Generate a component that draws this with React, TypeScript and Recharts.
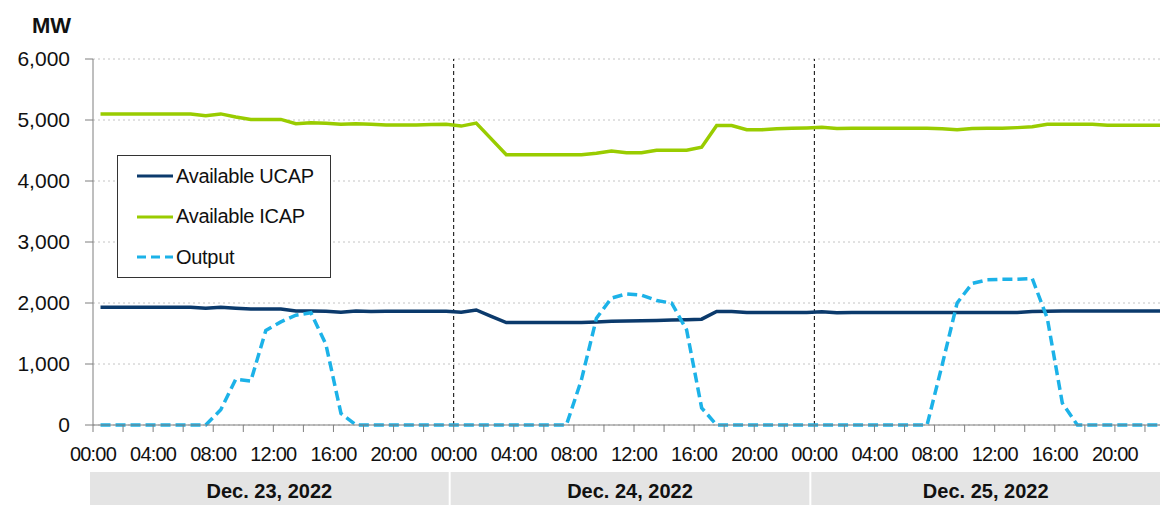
import { LineChart, Line, XAxis, YAxis, CartesianGrid, ReferenceLine, Legend, Label } from "recharts";

// hourly values, Dec 23 00:00 .. Dec 25 23:00 (MW)
const ucap = [
    1930, 1930, 1930, 1930, 1930, 1930, 1930, 1915, 1930, 1915, 1900, 1900,
    1900, 1870, 1870, 1865, 1850, 1870, 1860, 1865, 1865, 1865, 1865, 1865,
    1850, 1885, 1780, 1680, 1680, 1680, 1680, 1680, 1680, 1690, 1700, 1705,
    1710, 1715, 1720, 1725, 1735, 1860, 1860, 1845, 1845, 1845, 1845, 1845,
    1855, 1840, 1845, 1845, 1845, 1845, 1845, 1845, 1845, 1845, 1845, 1845,
    1845, 1845, 1860, 1865, 1870, 1870, 1870, 1870, 1870, 1870, 1870, 1870,
];
const icap = [
    5100, 5100, 5100, 5100, 5100, 5100, 5100, 5070, 5100, 5050, 5010, 5010,
    5010, 4940, 4955, 4945, 4930, 4940, 4930, 4920, 4920, 4920, 4925, 4930,
    4900, 4950, 4690, 4430, 4430, 4430, 4430, 4430, 4430, 4455, 4490, 4465,
    4465, 4505, 4505, 4505, 4555, 4910, 4910, 4840, 4840, 4855, 4865, 4870,
    4880, 4860, 4865, 4865, 4865, 4865, 4865, 4865, 4855, 4840, 4860, 4865,
    4865, 4875, 4890, 4930, 4930, 4930, 4930, 4915, 4915, 4915, 4915, 4915,
];
const output = [
    0, 0, 0, 0, 0, 0, 0, 0, 250, 750, 720, 1550,
    1690, 1800, 1840, 1320, 190, 0, 0, 0, 0, 0, 0, 0,
    0, 0, 0, 0, 0, 0, 0, 0, 740, 1750, 2080, 2150,
    2130, 2040, 2000, 1560, 280, 0, 0, 0, 0, 0, 0, 0,
    0, 0, 0, 0, 0, 0, 0, 0, 980, 2000, 2320, 2380,
    2390, 2390, 2400, 1750, 360, 0, 0, 0, 0, 0, 0, 0,
];

const hourTicks = [0, 2, 4, 6, 8, 10, 12, 14, 16, 18, 20, 22, 24, 26, 28, 30, 32, 34, 36, 38, 40, 42, 44, 46, 48, 50, 52, 54, 56, 58, 60, 62, 64, 66, 68, 70];
const dayLabels = ["Dec. 23, 2022", "Dec. 24, 2022", "Dec. 25, 2022"];
const dayCenters = [12, 36, 60];
const yTicks = [0, 1000, 2000, 3000, 4000, 5000, 6000];
const dayBreaks = [24, 48];

const WIDTH = 1160;
const HEIGHT = 505;
const Y_AXIS_W = 93;
const VISIBLE_HOURS = 71;
const FONT = "'Liberation Sans', Arial, sans-serif";

const UCAP_COLOR = "#0b3a6c";
const ICAP_COLOR = "#99cc00";
const OUTPUT_COLOR = "#1cb2e8";

const data = ucap.map((v, i) => ({ t: i + 0.5, ucap: v, icap: icap[i], output: output[i] }));

const series = [
    { key: "ucap", name: "Available UCAP", color: UCAP_COLOR, dash: undefined },
    { key: "icap", name: "Available ICAP", color: ICAP_COLOR, dash: undefined },
    { key: "output", name: "Output", color: OUTPUT_COLOR, dash: "10 5" },
];

function HourTick(props: any) {
    const { x, y, payload } = props;
    const h = payload.value;
    if (h % 4 !== 0) return null;
    const label = `${String(h % 24).padStart(2, "0")}:00`;
    return (
        <text x={x} y={y + 27} textAnchor="middle" fontSize={20} letterSpacing={-0.8} fill="#111" fontFamily={FONT}>
            {label}
        </text>
    );
}

function DayTick(props: any) {
    const { x, y, index } = props;
    const pph = (WIDTH - Y_AXIS_W) / VISIBLE_HOURS;
    const half = 12 * pph;
    const left = x - half - 3;
    const right = Math.min(x + half - 5, WIDTH);
    return (
        <g>
            <rect x={left} y={y - 1} width={right - left} height={40} fill="#e4e4e4" />
            <text x={(left + right) / 2} y={y + 25} textAnchor="middle" fontSize={20} fontWeight="bold" fill="#111" fontFamily={FONT}>
                {dayLabels[index]}
            </text>
        </g>
    );
}

function LegendBox() {
    return (
        <div
            style={{
                width: 214,
                height: 123,
                border: "1px solid #333",
                background: "#fff",
                boxSizing: "border-box",
                fontFamily: FONT,
            }}
        >
            {series.map((s) => (
                <div key={s.key} style={{ height: 40.5, display: "flex", alignItems: "center" }}>
                    <svg width={36} height={6} style={{ marginLeft: 19, marginRight: 3 }}>
                        <line x1={0} y1={3} x2={36} y2={3} stroke={s.color} strokeWidth={3} strokeDasharray={s.dash ? "9 5" : undefined} />
                    </svg>
                    <span style={{ fontSize: 20, letterSpacing: -0.3, color: "#111" }}>{s.name}</span>
                </div>
            ))}
        </div>
    );
}

export default function App() {
    return (
        <div style={{ position: "absolute", left: 0, top: 0, width: WIDTH, height: HEIGHT, background: "#fff" }}>
            <LineChart width={WIDTH} height={HEIGHT} data={data} margin={{ top: 59, right: 0, left: 0, bottom: 0 }}>
                <CartesianGrid vertical={false} stroke="#c4c4c4" strokeDasharray="2 3" />
                <XAxis
                    dataKey="t"
                    type="number"
                    domain={[0, VISIBLE_HOURS]}
                    allowDataOverflow
                    ticks={hourTicks}
                    interval={0}
                    tickSize={7}
                    height={40}
                    stroke="#7f7f7f"
                    tick={<HourTick />}
                />
                <XAxis
                    xAxisId="day"
                    dataKey="t"
                    type="number"
                    domain={[0, VISIBLE_HOURS]}
                    allowDataOverflow
                    ticks={dayCenters}
                    interval={0}
                    axisLine={false}
                    tickLine={false}
                    height={40}
                    tick={<DayTick />}
                />
                <YAxis
                    width={Y_AXIS_W}
                    domain={[0, 6000]}
                    ticks={yTicks}
                    interval={0}
                    tickSize={8}
                    tickMargin={15}
                    stroke="#7f7f7f"
                    tick={{ fontSize: 21, fill: "#111", fontFamily: FONT }}
                    tickFormatter={(v: number) => v.toLocaleString("en-US")}
                >
                    <Label value="MW" position="top" offset={26} dx={5} fontSize={22} fontWeight="bold" fill="#111" fontFamily={FONT} />
                </YAxis>
                {dayBreaks.map((h) => (
                    <ReferenceLine key={h} x={h} stroke="#000" strokeDasharray="4 3" strokeWidth={1} />
                ))}
                <Legend
                    layout="vertical"
                    align="center"
                    verticalAlign="middle"
                    content={<LegendBox />}
                    wrapperStyle={{ left: 117, top: 155, width: 214, height: 123 }}
                />
                <Line dataKey="icap" name="Available ICAP" stroke={ICAP_COLOR} strokeWidth={3.5} dot={false} isAnimationActive={false} />
                <Line dataKey="ucap" name="Available UCAP" stroke={UCAP_COLOR} strokeWidth={3.5} dot={false} isAnimationActive={false} />
                <Line dataKey="output" name="Output" stroke={OUTPUT_COLOR} strokeWidth={3.5} strokeDasharray="10 5" dot={false} isAnimationActive={false} />
            </LineChart>
        </div>
    );
}
